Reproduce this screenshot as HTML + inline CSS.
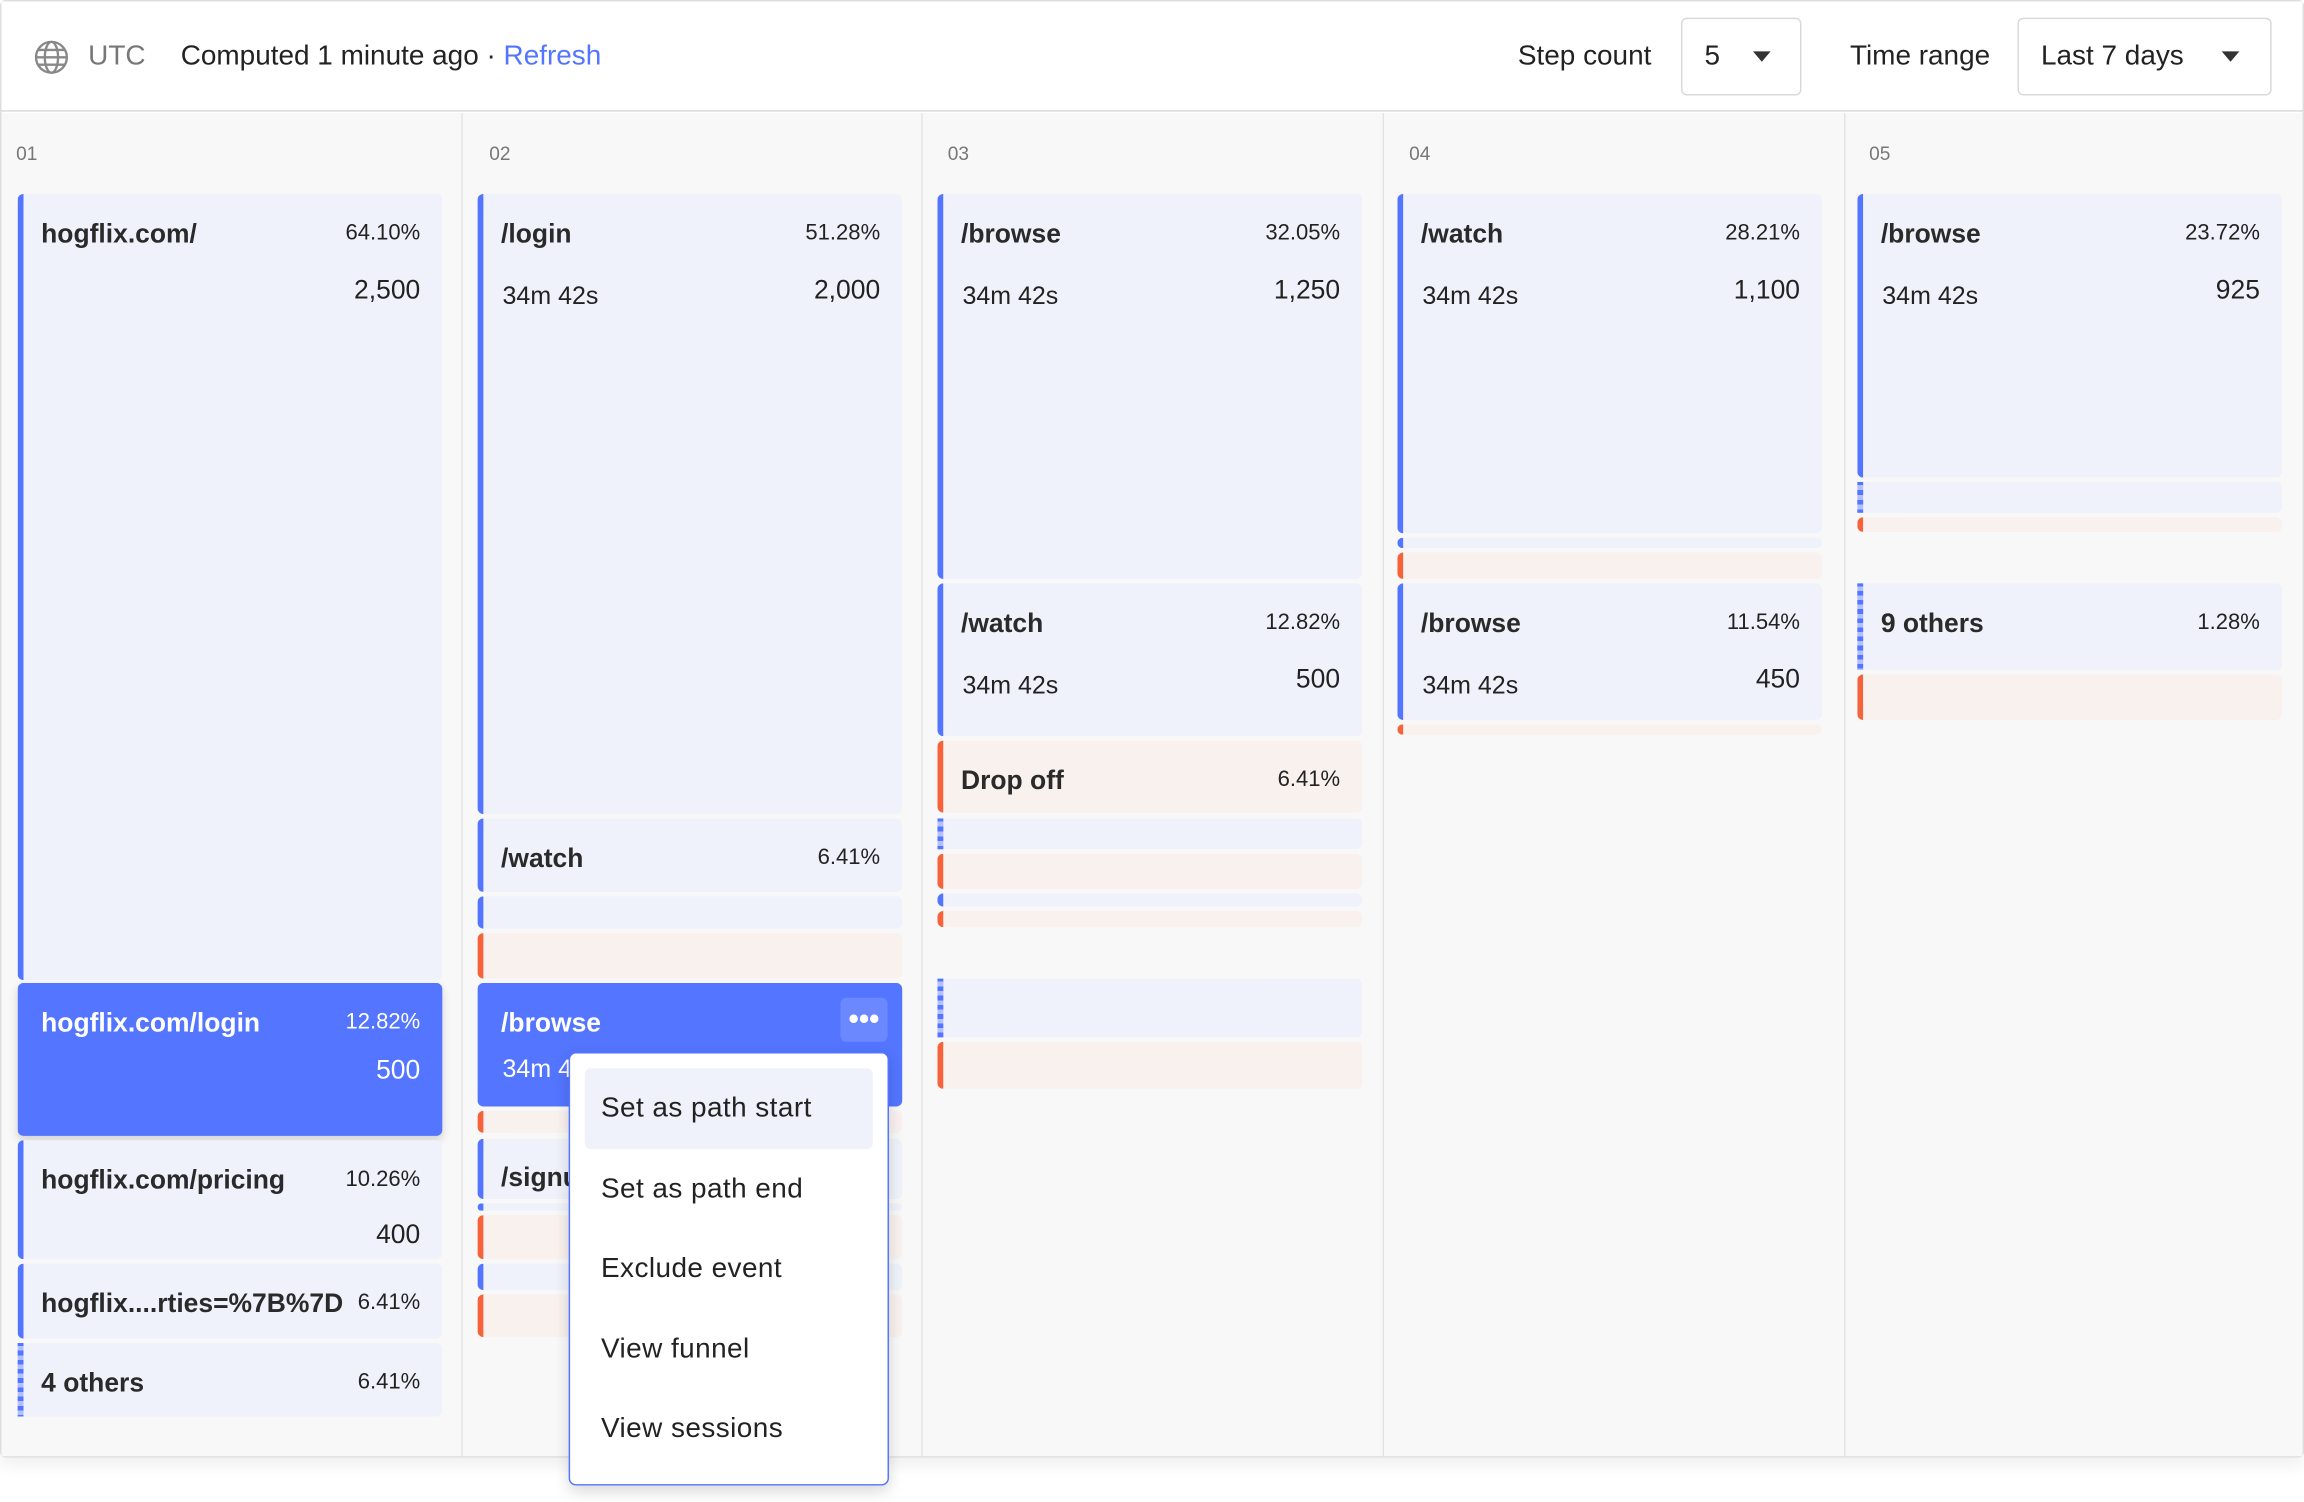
<!DOCTYPE html>
<html><head><meta charset="utf-8"><style>
*{box-sizing:border-box;margin:0;padding:0}
html,body{width:2304px;height:1501px;overflow:hidden;background:#fff;font-family:"Liberation Sans",sans-serif;color:#222}
#w{position:absolute;left:0;top:0;width:1568px;height:1022px;transform:scale(1.46939);transform-origin:0 0}
.a{position:absolute}
.frame{left:0;top:0;width:1568px;height:992px;border:1px solid #ddd;border-radius:4px;box-shadow:0 6px 10px rgba(0,0,0,.06)}
.hdr{left:1px;top:1px;width:1566px;height:75px;background:#fff;border-bottom:1.5px solid #d9d9d9}
.col{top:77px;height:914px;background:#f8f8f8;border-right:1.5px solid #e2e2e2}
.lbl{font-size:13px;color:#777;top:97px}
.c{position:absolute;background:#eff2fa;border-radius:4px;border-left:4px solid #5375ff}
.o{background:#f9f1ee;border-left-color:#f6633a}
.st{border-left:4px solid transparent;border-image:repeating-linear-gradient(180deg,#5375ff 0 3px,#b3c0ff 3px 6px) 1}
.sel{background:#5375ff;color:#fff}
.t{position:absolute;left:12px;top:17px;font-size:18px;font-weight:bold;color:#2a2a2a}
.p{position:absolute;right:15px;top:18px;font-size:15px}
.n{position:absolute;right:15px;top:55px;font-size:18px}
.d{position:absolute;left:13px;top:60px;font-size:17px}
.sel .t,.sel .p,.sel .n,.sel .d{color:#fff}
.box{border:1px solid #d9d9d9;border-radius:4px;top:12px;height:53px;background:#fff}
.menu{left:387px;top:716px;width:218px;height:295px;background:#fff;border:1.5px solid #5375ff;border-radius:5px;box-shadow:0 4px 10px rgba(0,0,0,.15)}
.mi{position:absolute;left:21px;font-size:19px;color:#222;letter-spacing:.3px}
.h{top:28px;font-size:19px}
</style></head><body><div id="w">
<div class="a frame"></div>
<div class="a hdr"></div>
<svg class="a" style="left:23px;top:27px" width="24" height="24" viewBox="0 0 24 24" fill="none" stroke="#888" stroke-width="1.6"><circle cx="12" cy="12" r="10.5"/><ellipse cx="12" cy="12" rx="4.5" ry="10.5"/><path d="M1.5 12h21M3 7h18M3 17h18"/></svg>
<div class="a h" style="left:60px;color:#777">UTC</div>
<div class="a h" style="left:123px;color:#222">Computed 1 minute ago · <span style="color:#5375ff">Refresh</span></div>
<div class="a h" style="left:1033px">Step count</div>
<div class="a box" style="left:1144px;width:82px"></div>
<div class="a h" style="left:1160px">5</div>
<div class="a" style="left:1193px;top:35px;border:6px solid transparent;border-top:7px solid #333"></div>
<div class="a h" style="left:1259px">Time range</div>
<div class="a box" style="left:1373px;width:173px"></div>
<div class="a h" style="left:1389px">Last 7 days</div>
<div class="a" style="left:1512px;top:35px;border:6px solid transparent;border-top:7px solid #333"></div>

<div class="a col" style="left:1px;width:314px"></div>
<div class="a col" style="left:315px;width:313px"></div>
<div class="a col" style="left:628px;width:314px"></div>
<div class="a col" style="left:942px;width:314px"></div>
<div class="a col" style="left:1256px;width:311px;border-right:none"></div>
<div class="a lbl" style="left:11px">01</div>
<div class="a lbl" style="left:333px">02</div>
<div class="a lbl" style="left:645px">03</div>
<div class="a lbl" style="left:959px">04</div>
<div class="a lbl" style="left:1272px">05</div>

<!-- col1 -->
<div class="c" style="left:12px;top:132px;width:289px;height:535px"><div class="t">hogflix.com/</div><div class="p">64.10%</div><div class="n">2,500</div></div>
<div class="c sel" style="left:12px;top:669px;width:289px;height:104px;box-shadow:0 3px 6px rgba(0,0,0,.15)"><div class="t">hogflix.com/login</div><div class="p">12.82%</div><div class="n" style="top:49px">500</div></div>
<div class="c" style="left:12px;top:776px;width:289px;height:81px"><div class="t">hogflix.com/pricing</div><div class="p">10.26%</div><div class="n" style="top:54px">400</div></div>
<div class="c" style="left:12px;top:860px;width:289px;height:51px"><div class="t">hogflix....rties=%7B%7D</div><div class="p">6.41%</div></div>
<div class="c st" style="left:12px;top:914px;width:289px;height:50px"><div class="t">4 others</div><div class="p">6.41%</div></div>

<!-- col2 -->
<div class="c" style="left:325px;top:132px;width:289px;height:422px"><div class="t">/login</div><div class="p">51.28%</div><div class="n">2,000</div><div class="d">34m 42s</div></div>
<div class="c" style="left:325px;top:557px;width:289px;height:50px"><div class="t">/watch</div><div class="p">6.41%</div></div>
<div class="c" style="left:325px;top:610px;width:289px;height:22px"></div>
<div class="c o" style="left:325px;top:635px;width:289px;height:31px"></div>
<div class="c sel" style="left:325px;top:669px;width:289px;height:84px"><div class="t">/browse</div><div class="d" style="top:49px">34m 42s</div>
<div class="a" style="right:10px;top:10px;width:32px;height:30px;background:#6c88ff;border-radius:4px;color:#fff;font-size:20px;text-align:center;line-height:30px;font-weight:bold">•••</div></div>
<div class="c o" style="left:325px;top:756px;width:289px;height:15px"></div>
<div class="c" style="left:325px;top:775px;width:289px;height:41px"><div class="t" style="top:16px">/signup</div></div>
<div class="c" style="left:325px;top:819px;width:289px;height:5px"></div>
<div class="c o" style="left:325px;top:827px;width:289px;height:30px"></div>
<div class="c" style="left:325px;top:860px;width:289px;height:18px"></div>
<div class="c o" style="left:325px;top:881px;width:289px;height:29px"></div>

<!-- col3 -->
<div class="c" style="left:638px;top:132px;width:289px;height:262px"><div class="t">/browse</div><div class="p">32.05%</div><div class="n">1,250</div><div class="d">34m 42s</div></div>
<div class="c" style="left:638px;top:397px;width:289px;height:104px"><div class="t">/watch</div><div class="p">12.82%</div><div class="n">500</div><div class="d">34m 42s</div></div>
<div class="c o" style="left:638px;top:504px;width:289px;height:49px"><div class="t">Drop off</div><div class="p">6.41%</div></div>
<div class="c st" style="left:638px;top:557px;width:289px;height:21px"></div>
<div class="c o" style="left:638px;top:581px;width:289px;height:24px"></div>
<div class="c" style="left:638px;top:608px;width:289px;height:9px"></div>
<div class="c o" style="left:638px;top:620px;width:289px;height:11px"></div>
<div class="c st" style="left:638px;top:666px;width:289px;height:40px"></div>
<div class="c o" style="left:638px;top:709px;width:289px;height:32px"></div>

<!-- col4 -->
<div class="c" style="left:951px;top:132px;width:289px;height:231px"><div class="t">/watch</div><div class="p">28.21%</div><div class="n">1,100</div><div class="d">34m 42s</div></div>
<div class="c" style="left:951px;top:366px;width:289px;height:7px"></div>
<div class="c o" style="left:951px;top:376px;width:289px;height:18px"></div>
<div class="c" style="left:951px;top:397px;width:289px;height:93px"><div class="t">/browse</div><div class="p">11.54%</div><div class="n">450</div><div class="d">34m 42s</div></div>
<div class="c o" style="left:951px;top:493px;width:289px;height:7px"></div>

<!-- col5 -->
<div class="c" style="left:1264px;top:132px;width:289px;height:193px"><div class="t">/browse</div><div class="p">23.72%</div><div class="n">925</div><div class="d">34m 42s</div></div>
<div class="c st" style="left:1264px;top:328px;width:289px;height:21px"></div>
<div class="c o" style="left:1264px;top:352px;width:289px;height:10px"></div>
<div class="c st" style="left:1264px;top:397px;width:289px;height:59px"><div class="t">9 others</div><div class="p">1.28%</div></div>
<div class="c o" style="left:1264px;top:459px;width:289px;height:31px"></div>

<!-- menu -->
<div class="a menu">
<div class="a" style="left:10px;top:10px;width:196px;height:55px;background:#eff2fa;border-radius:4px"></div>
<div class="mi" style="top:27px">Set as path start</div>
<div class="mi" style="top:82px">Set as path end</div>
<div class="mi" style="top:136px">Exclude event</div>
<div class="mi" style="top:191px">View funnel</div>
<div class="mi" style="top:245px">View sessions</div>
</div>
</div></body></html>
